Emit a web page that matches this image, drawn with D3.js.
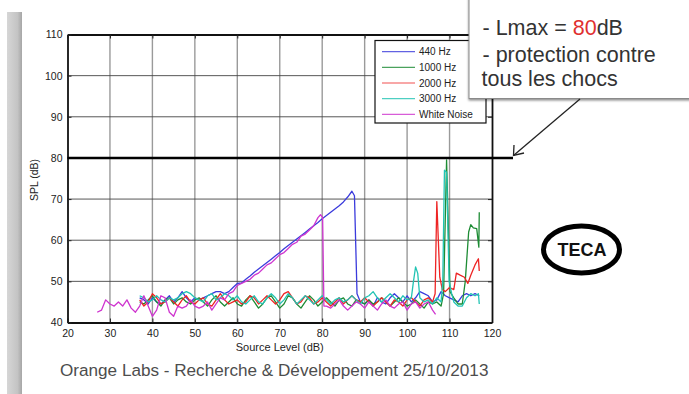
<!DOCTYPE html>
<html><head><meta charset="utf-8">
<script src="https://cdn.jsdelivr.net/npm/d3@7"></script>
<style>body{margin:0;background:#fff}svg{display:block}</style>
</head><body>
<svg id="c" width="689" height="394"></svg>
<script>
const xTicks = [20,30,40,50,60,70,80,90,100,110,120];
const yTicks = [40,50,60,70,80,90,100,110];
const seriesNames = ["440 Hz","1000 Hz","2000 Hz","3000 Hz","White Noise"];
const seriesColors = ["#3b3bdc","#1e8c35","#ee2424","#22c4b4","#cf35cf"];
const limitLevel = 80;
const calloutLines = ["- protection contre","tous les chocs"];

const s440 = [[37,46],[38,45.5],[39,44.5],[40,46],[41,45],[42,44.5],[43,45.5],[44,46.5],[45,45],[46,46],[47,47.5],[48,46],[49,45],[50,46],[51,45.5],[52,46],[53,46.5],[54,47],[55,47.5],[56,47.5],[57,47],[58,47.5],[59,48.5],[60,49.5],[61,49.6],[62,50.5],[63,51.3],[64,52.2],[65,53],[66,53.8],[67,54.6],[68,55.4],[69,56.2],[70,57],[71,57.9],[72,58.7],[73,59.5],[74,60.3],[75,61.1],[76,61.9],[77,62.7],[78,63.5],[79,64.3],[80,65.2],[81,66],[82,66.8],[83,67.6],[84,68.4],[85,69.3],[86,70.5],[87,71.9],[87.6,70.8],[88.2,47],[89,45],[90,44.5],[91,45.5],[92,44],[93,46],[94,45],[95,44.5],[96,46],[97,47],[98,46],[99,45],[100,46.5],[101,45],[102,46],[103,47.5],[104,47],[105,46.5],[106,45],[107,45.5],[108,47.5],[109,46.5],[110,46],[111,45.5],[112,45],[113,46.5],[114,47],[115,46.5],[116,47],[117,46.5]];
const s1000 = [[37,45],[38,44.5],[39,45.5],[40,46.5],[41,45],[42,44],[43,45.5],[44,46],[45,44.5],[46,45.5],[47,46],[48,45],[49,44.5],[50,45.5],[51,46],[52,45],[53,44],[54,45.5],[55,46.5],[56,45],[57,44],[58,45],[59,46],[60,44.5],[61,44],[62,45.5],[63,46.5],[64,45],[65,43.5],[66,44.5],[67,46],[68,46.5],[69,45],[70,43.5],[71,44.5],[72,46.5],[73,46],[74,44.5],[75,43.5],[76,45],[77,46.5],[78,45.5],[79,44],[80,45],[81,46],[82,45],[83,44],[84,45.5],[85,46],[86,44.5],[87,44],[88,45.5],[89,45],[90,44.5],[91,45.5],[92,44.5],[93,45],[94,46],[95,45],[96,44],[97,45],[98,46],[99,45],[100,44],[101,44.5],[102,45.5],[103,44.5],[104,43.5],[105,45],[106,44.5],[107,45],[108,44],[108.6,47],[109.3,79.5],[110.1,47.5],[111,46],[112,44.5],[113,44.5],[113.7,50],[114.5,62],[115,63.8],[115.6,63],[116.4,62.8],[116.9,58.3],[117,66.8]];
const s2000 = [[37,45.5],[38,44],[39,45],[40,47],[41,46],[42,44.5],[43,45],[44,46],[45,45],[46,44],[47,45.5],[48,46.5],[49,45],[50,44.5],[51,45.5],[52,46],[53,44.5],[54,44],[55,45.5],[56,47],[57,45.5],[58,44.5],[59,45],[60,45.5],[61,44.5],[62,45],[63,46.5],[64,46],[65,44.5],[66,45.5],[67,46.5],[68,45.5],[69,44.5],[70,45.5],[71,47],[72,47.5],[73,46],[74,44.5],[75,45],[76,46.5],[77,46],[78,44.5],[79,45],[80,46],[81,45],[82,44],[83,45],[84,46],[85,44.5],[86,45.5],[87,46.5],[88,45.5],[89,45],[90,46],[91,45],[92,44],[93,45],[94,46],[95,45],[96,44],[97,45.5],[98,45],[99,44],[100,45.5],[101,46],[102,45],[103,44],[104,45.5],[105,46],[106,45],[106.6,47],[107,69.4],[107.7,51],[108.3,48],[109,47.5],[110,48.5],[111,48],[111.6,52],[112.5,51.5],[113.5,51],[114.3,49.5],[115,51.5],[116,54],[116.8,55.5],[117,52.5]];
const s3000 = [[37,46.5],[38,46],[39,45],[40,45.5],[41,46.5],[42,45.5],[43,45],[44,46],[45,45.5],[46,46],[47,47],[48,47.5],[49,47],[50,46],[51,45.5],[52,45],[53,46.5],[54,47],[55,45.5],[56,46],[57,47],[58,46.5],[59,45.5],[60,46.5],[61,45],[62,44.5],[63,45.5],[64,46.5],[65,45],[66,44.5],[67,46],[68,47],[69,46],[70,44.5],[71,45.5],[72,47],[73,46],[74,44.5],[75,45.5],[76,46.5],[77,45.5],[78,44.5],[79,45.5],[80,46.5],[81,45.5],[82,44.5],[83,45.5],[84,46],[85,45],[86,45.5],[87,46.5],[88,45.5],[89,44.5],[90,46],[91,46.5],[92,47.5],[93,46],[94,45],[95,46],[96,47],[97,46],[98,45],[99,46.5],[100,45.5],[101,46],[101.5,50],[102,53.5],[102.5,52],[103,46],[104,45],[105,45.5],[106,44.5],[107,46],[108,45],[108.4,50],[108.8,77],[109.3,76.5],[109.9,50],[110.5,47],[111,45],[112,44],[113,44],[114,46],[115,47],[116,46.5],[116.8,47],[117,44.5]];
const sWN = [[27,42.5],[28,43],[29,45.5],[30,44.5],[31,44],[32,45],[33,44],[34,45.5],[35,43.5],[36,42.5],[37,44],[38,46.5],[39,44],[40,41.5],[41,43],[42,46.5],[43,46],[44,42.5],[45,41.5],[46,44],[47,43.5],[48,44],[49,45.5],[50,44],[51,43.5],[52,44],[53,45],[54,43],[55,44.5],[56,46],[57,45.5],[58,47],[59,47.5],[60,49],[61,49.5],[62,50],[63,50.5],[64,51.5],[65,52],[66,53],[67,54],[68,54.5],[69,55.5],[70,56.5],[71,57],[72,58],[73,59],[74,59.5],[75,61],[76,61.5],[77,62.5],[78,63.5],[79,65.5],[79.6,66.2],[80.1,65.5],[80.4,44],[81,44],[82,43.5],[83,44.5],[84,45.5],[85,44],[86,43],[87,44],[88,45],[89,44.5],[90,43.5],[91,45],[92,44],[93,43],[94,44.5],[95,45.5],[96,44],[97,43.5],[98,44.5],[99,45],[100,43],[101,44.5],[102,45],[103,43.5],[104,44.5],[105,45],[106,43],[106.7,42]];
const seriesData = [s440, s1000, s2000, s3000, sWN];

const svg = d3.select("#c");
const x = d3.scaleLinear().domain([20,120]).range([67.5,492]);
const y = d3.scaleLinear().domain([40,110]).range([322.5,34.5]);
const font = "Liberation Sans, Arial, Helvetica, sans-serif";

// left grey band
const defs = svg.append("defs");
const g1 = defs.append("linearGradient").attr("id","band");
g1.append("stop").attr("offset","0").attr("stop-color","#d6d6d6");
g1.append("stop").attr("offset","0.7").attr("stop-color","#c4c4c4");
g1.append("stop").attr("offset","1").attr("stop-color","#a6a6a6");
svg.append("rect").attr("x",7).attr("y",12).attr("width",15).attr("height",382).attr("fill","url(#band)");

// grid
svg.append("g").selectAll("line").data(xTicks.slice(1,-1)).join("line")
  .attr("x1",d=>x(d)).attr("x2",d=>x(d)).attr("y1",y(110)).attr("y2",y(40))
  .attr("stroke","#9a9a9a").attr("stroke-width",1.4);
svg.append("g").selectAll("line").data(yTicks.slice(1,-1)).join("line")
  .attr("x1",x(20)).attr("x2",x(120)).attr("y1",d=>y(d)).attr("y2",d=>y(d))
  .attr("stroke","#444").attr("stroke-width",0.9);

// axes
const axB = svg.append("g").attr("transform",`translate(0,${y(40)})`)
  .call(d3.axisBottom(x).tickValues(xTicks).tickSize(-4).tickPadding(7).tickSizeOuter(0));
const axT = svg.append("g").attr("transform",`translate(0,${y(110)})`)
  .call(d3.axisTop(x).tickValues(xTicks).tickSize(-4).tickFormat("").tickSizeOuter(0));
const axL = svg.append("g").attr("transform",`translate(${x(20)},0)`)
  .call(d3.axisLeft(y).tickValues(yTicks).tickSize(-4).tickPadding(5).tickSizeOuter(0));
const axR = svg.append("g").attr("transform",`translate(${x(120)},0)`)
  .call(d3.axisRight(y).tickValues(yTicks).tickSize(-4).tickFormat("").tickSizeOuter(0));
[axB,axT,axL,axR].forEach(a=>{
  a.select(".domain").attr("stroke","#111").attr("stroke-width",1.8);
  a.selectAll(".tick line").attr("stroke","#222").attr("stroke-width",1);
  a.selectAll("text").attr("font-family",font).attr("font-size",10.5).attr("fill","#222");
});
axB.selectAll("text").attr("dy","0.71em");
axT.select(".domain").attr("stroke-width",2.2);

// series
const line = d3.line().x(d=>x(d[0])).y(d=>y(d[1]));
svg.append("g").selectAll("path").data(seriesData).join("path")
  .attr("d",line).attr("fill","none")
  .attr("stroke",(d,i)=>seriesColors[i]).attr("stroke-width",1.3).attr("stroke-linejoin","round");

// 80 dB limit line
svg.append("line").attr("x1",x(20)).attr("x2",513).attr("y1",y(limitLevel)).attr("y2",y(limitLevel))
  .attr("stroke","#000").attr("stroke-width",2.6);

// axis titles
svg.append("text").attr("x",(x(20)+x(120))/2).attr("y",350.5).attr("text-anchor","middle")
  .attr("font-family",font).attr("font-size",11).attr("fill","#222").text("Source Level (dB)");
svg.append("text").attr("transform","translate(38,180) rotate(-90)").attr("text-anchor","middle")
  .attr("font-family",font).attr("font-size",10.5).attr("fill","#222").text("SPL (dB)");

// legend
const lg = svg.append("g");
lg.append("rect").attr("x",375).attr("y",40.5).attr("width",111).attr("height",82.5)
  .attr("fill","#fff").attr("stroke","#111").attr("stroke-width",1.2);
seriesNames.forEach((n,i)=>{
  const yy = 51.7 + i*15.65;
  lg.append("line").attr("x1",382).attr("x2",415).attr("y1",yy).attr("y2",yy)
    .attr("stroke",seriesColors[i]).attr("stroke-width",1.2).attr("opacity",0.8);
  lg.append("text").attr("x",419).attr("y",yy+3.5).attr("font-family",font).attr("font-size",10)
    .attr("fill","#222").text(n);
});

// callout
const sh = defs.append("filter").attr("id","sh").attr("x","-10%").attr("y","-10%").attr("width","130%").attr("height","140%");
sh.append("feDropShadow").attr("dx",0).attr("dy",1.5).attr("stdDeviation",1.2).attr("flood-color","#000").attr("flood-opacity",0.45);
svg.append("rect").attr("x",469).attr("y",-5).attr("width",240).attr("height",103.5)
  .attr("fill","#fff").attr("stroke","#8a8a8a").attr("stroke-width",1).attr("filter","url(#sh)");
const cfs = 21.5;
const t1 = svg.append("text").attr("x",482.5).attr("y",34.5).attr("font-family",font).attr("font-size",cfs).attr("fill","#333");
t1.append("tspan").text("- Lmax = ");
t1.append("tspan").attr("fill","#e03030").text(String(limitLevel));
t1.append("tspan").text("dB");
calloutLines.forEach((s,i)=>{
  svg.append("text").attr("x",i===0?482.5:481.5).attr("y",61.5+i*24.5).attr("font-family",font)
    .attr("font-size",cfs).attr("fill","#333").text(s);
});

// arrow
svg.append("line").attr("x1",580).attr("y1",99).attr("x2",513.5).attr("y2",155.5).attr("stroke","#222").attr("stroke-width",1.3);
svg.append("path").attr("d","M514,145 L513.5,155.5 L524,153").attr("fill","none").attr("stroke","#222").attr("stroke-width",1.3);

// TECA
svg.append("ellipse").attr("cx",581.5).attr("cy",249.5).attr("rx",38).attr("ry",23.5)
  .attr("fill","#fff").attr("stroke","#000").attr("stroke-width",5);
svg.append("text").attr("x",582).attr("y",256).attr("text-anchor","middle").attr("font-family",font)
  .attr("font-weight","bold").attr("font-size",18).attr("fill","#111").text("TECA");

// footer
const ft = svg.append("text").attr("x",60).attr("y",376).attr("font-family",font).attr("font-size",18)
  .attr("fill","#4d4d4d").text("Orange Labs - Recherche & Développement 25/10/2013");
const w = ft.node().getComputedTextLength();
ft.attr("font-size",18*429/w);
</script>
</body></html>
